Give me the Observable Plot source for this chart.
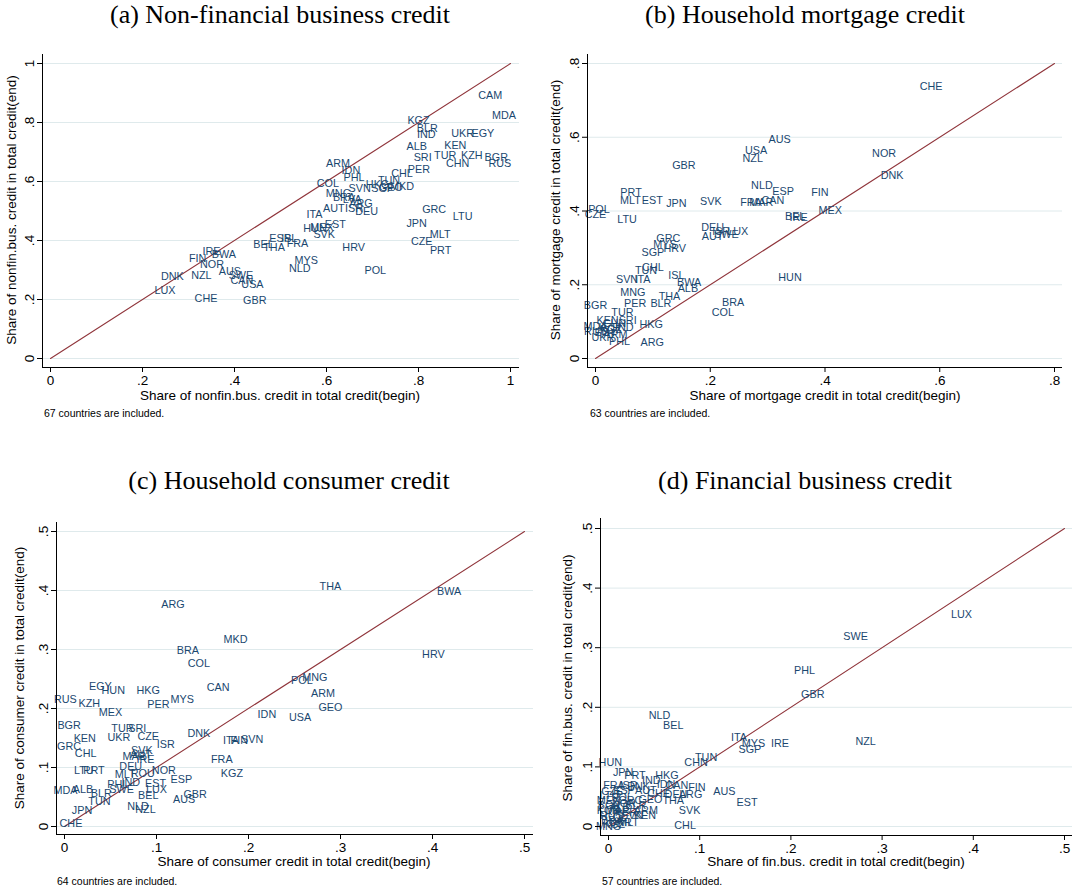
<!DOCTYPE html>
<html><head><meta charset="utf-8">
<script src="https://cdn.jsdelivr.net/npm/d3@7"></script>
<script src="https://cdn.jsdelivr.net/npm/@observablehq/plot@0.6"></script>
<style>
body{margin:0;background:#fff;}
#wrap{position:relative;width:1075px;height:892px;overflow:hidden;font-family:"Liberation Sans",Arial,sans-serif;color:#000;}
#wrap svg{position:absolute;}
.abs{position:absolute;white-space:nowrap;line-height:1;}
.title{font-family:"Liberation Serif","Times New Roman",serif;font-size:26px;transform:translate(-50%,-50%);}
.xt{font-size:13.5px;transform:translate(-50%,-50%);}
.yt{font-size:13.5px;transform:translate(-50%,-50%) rotate(-90deg);}
.note{font-size:10.5px;transform:translateY(-50%);}
</style></head><body><div id="wrap"></div>
<script>
// tick values and labels
const ticksUnit = [0, 0.2, 0.4, 0.6, 0.8, 1];
const ticksUnitLabels = ["0", ".2", ".4", ".6", ".8", "1"];
const ticksMort = [0, 0.2, 0.4, 0.6, 0.8];
const ticksMortLabels = ["0", ".2", ".4", ".6", ".8"];
const ticksHalf = [0, 0.1, 0.2, 0.3, 0.4, 0.5];
const ticksHalfLabels = ["0", ".1", ".2", ".3", ".4", ".5"];

// [country, share at begin, share at end]
const nonfinRows = [
["CAM",.956,.892],["MDA",.986,.824],["KGZ",.800,.807],["BLR",.819,.781],["IND",.817,.759],
["UKR",.896,.764],["EGY",.940,.764],["ALB",.796,.719],["KEN",.880,.722],["SRI",.809,.682],
["TUR",.858,.688],["KZH",.916,.688],["BGR",.969,.682],["CHN",.885,.662],["RUS",.977,.662],
["PER",.801,.641],["CHL",.764,.628],["ARM",.625,.662],["IDN",.653,.637],["PHL",.660,.612],
["COL",.603,.592],["TUN",.736,.603],["SVN",.672,.577],["HKG",.711,.589],["SGP",.722,.575],
["GEO",.740,.579],["MKD",.764,.583],["MNG",.626,.560],["BRA",.638,.545],["LVA",.656,.539],
["ARG",.675,.524],["AUT",.616,.510],["ISR",.660,.510],["DEU",.687,.498],["ITA",.574,.488],
["EST",.619,.454],["HUN",.575,.440],["MEX",.590,.445],["SVK",.595,.419],["GRC",.834,.505],
["LTU",.896,.481],["JPN",.796,.456],["MLT",.847,.420],["CZE",.807,.397],["PRT",.848,.366],
["HRV",.659,.375],["POL",.706,.298],["MYS",.556,.332],["NLD",.542,.304],["BEL",.463,.385],
["THA",.486,.377],["ESP",.499,.407],["ISL",.519,.407],["FRA",.537,.391],["IRE",.350,.364],
["BWA",.377,.353],["FIN",.320,.338],["NOR",.351,.319],["AUS",.390,.295],["SWE",.414,.281],
["CAN",.416,.264],["USA",.439,.251],["DNK",.265,.278],["NZL",.328,.281],["LUX",.249,.231],
["CHE",.338,.202],["GBR",.444,.197]
];

const mortgageRows = [
["CHE",.585,.738],["AUS",.321,.593],["USA",.280,.564],["NZL",.274,.541],["GBR",.154,.523],
["NOR",.503,.556],["DNK",.517,.496],["NLD",.290,.469],["ESP",.327,.453],["FIN",.391,.449],
["CAN",.309,.428],["FRA",.271,.422],["MAR",.289,.422],["PRT",.062,.451],["MLT",.061,.428],
["EST",.099,.428],["JPN",.141,.421],["SVK",.201,.426],["POL",.006,.403],["CZE",.000,.390],
["LTU",.055,.377],["BEL",.348,.386],["IRE",.354,.383],["MEX",.409,.401],["DEU",.204,.356],
["ISR",.219,.345],["LUX",.248,.344],["SWE",.228,.335],["AUT",.204,.331],["GRC",.127,.326],
["MYS",.121,.308],["HRV",.138,.299],["SGP",.100,.288],["TUN",.088,.239],["CHL",.100,.246],
["SVN",.055,.214],["ITA",.082,.214],["ISL",.141,.225],["BWA",.163,.207],["ALB",.161,.189],
["HUN",.339,.220],["MNG",.065,.178],["THA",.129,.169],["PER",.069,.148],["BLR",.114,.148],
["BGR",.000,.144],["BRA",.240,.151],["COL",.222,.124],["TUR",.047,.124],["KEN",.021,.103],
["SRI",.056,.103],["MDA",.000,.087],["IND",.050,.083],["RUS",.000,.073],["KZH",.024,.085],
["EGY",.018,.071],["UKR",.013,.058],["HKG",.097,.092],["PHL",.042,.047],["ARG",.099,.044],
["CHN",.033,.094],["KGZ",.027,.078],["ARM",.035,.066]
];

const consumerRows = [
["EGY",.039,.237],["HUN",.053,.231],["HKG",.091,.231],["CAN",.167,.235],["RUS",.001,.215],
["KZH",.027,.208],["PER",.102,.207],["MYS",.128,.216],["MEX",.050,.193],["IDN",.220,.190],
["BGR",.005,.171],["TUR",.063,.166],["SRI",.079,.166],["KEN",.022,.149],["UKR",.059,.151],
["CZE",.091,.153],["ISR",.110,.139],["DNK",.146,.157],["GRC",.005,.136],["CHL",.023,.124],
["SVK",.084,.128],["MAR",.076,.119],["IRE",.088,.113],["ITA",.181,.145],["FIN",.190,.145],
["SVN",.204,.147],["FRA",.171,.113],["KGZ",.182,.089],["LTU",.021,.095],["PRT",.032,.095],
["DEU",.072,.101],["MLT",.066,.088],["ROU",.085,.089],["NOR",.108,.095],["IND",.072,.075],
["PHL",.058,.071],["EST",.099,.072],["ESP",.127,.080],["MDA",.001,.061],["ALB",.020,.062],
["BLR",.040,.056],["SWE",.062,.062],["LUX",.100,.063],["BEL",.091,.053],["GBR",.142,.054],
["AUS",.130,.046],["TUN",.038,.042],["JPN",.019,.027],["NLD",.080,.034],["NZL",.088,.029],
["CHE",.007,.005],["THA",.289,.407],["BWA",.418,.398],["MKD",.186,.317],["HRV",.401,.292],
["COL",.146,.276],["POL",.258,.247],["MNG",.272,.252],["ARM",.281,.226],["GEO",.289,.202],
["USA",.256,.184],["ARG",.118,.376],["BRA",.134,.298],["AUT",.083,.122]
];

const finbusRows = [
["LUX",.387,.355],["SWE",.271,.318],["PHL",.215,.262],["GBR",.224,.222],["NZL",.282,.143],
["NLD",.056,.187],["BEL",.071,.170],["ITA",.143,.149],["MYS",.159,.139],["IRE",.188,.139],
["SGP",.155,.129],["TUN",.107,.115],["CHN",.096,.108],["HUN",.002,.108],["JPN",.016,.090],
["PRT",.029,.086],["HKG",.064,.086],["IND",.047,.077],["FRA",.006,.069],["ISR",.022,.069],
["DNK",.033,.067],["IDN",.063,.071],["CAN",.075,.069],["FIN",.097,.066],["ARG",.090,.053],
["ESP",.017,.061],["SVK",.089,.026],["CHE",.055,.055],["EST",.152,.041],["AUS",.127,.059],
["THA",.071,.044],["CHL",.084,.002],["ARM",.041,.027],["KEN",.040,.018],["CZE",.004,.058],
["MEX",.000,.044],["BGR",.001,.035],["GRC",.024,.044],["GEO",.046,.045],["KOR",.000,.027],
["MNG",.000,.000],["RUS",.003,.018],["BRA",.004,.010],["UKR",.013,.007],["LTU",.001,.052],
["ALB",.012,.032],["NOR",.017,.038],["PER",.019,.024],["MLT",.022,.007],["SVN",.026,.018],
["AUT",.041,.061],["DEU",.074,.053],["COL",.008,.015],["KGZ",.006,.003],["MAR",.010,.026],
["POL",.015,.048],["BLR",.030,.035]
];

const panels = [
 {rows: nonfinRows, ticks: ticksUnit, tickLabels: ticksUnitLabels,
  title: "(a) Non-financial business credit",
  xLabel: "Share of nonfin.bus. credit in total credit(begin)",
  yLabel: "Share of nonfin.bus. credit in total credit(end)",
  note: "67 countries are included.",
  box: {left: 0, top: 40, width: 537, height: 380}, plot: {l: 42, r: 519, t: 54, b: 367},
  xCal: [0, 50, 1, 510], yCal: [0, 358, 1, 63],
  titlePos: [280, 15], xLabelPos: [280, 396], yLabelPos: [12, 210], notePos: [44, 413]},
 {rows: mortgageRows, ticks: ticksMort, tickLabels: ticksMortLabels,
  title: "(b) Household mortgage credit",
  xLabel: "Share of mortgage credit in total credit(begin)",
  yLabel: "Share of mortgage credit in total credit(end)",
  note: "63 countries are included.",
  box: {left: 545, top: 40, width: 530, height: 380}, plot: {l: 587, r: 1062, t: 54, b: 367},
  xCal: [0, 595, 0.8, 1054], yCal: [0, 358, 0.8, 63],
  titlePos: [805, 15], xLabelPos: [825, 396], yLabelPos: [556, 210], notePos: [590, 413]},
 {rows: consumerRows, ticks: ticksHalf, tickLabels: ticksHalfLabels,
  title: "(c) Household consumer credit",
  xLabel: "Share of consumer credit in total credit(begin)",
  yLabel: "Share of consumer credit in total credit(end)",
  note: "64 countries are included.",
  box: {left: 0, top: 505, width: 545, height: 370}, plot: {l: 56, r: 533, t: 522, b: 834},
  xCal: [0, 64, 0.5, 524], yCal: [0, 826, 0.5, 531],
  titlePos: [289, 481], xLabelPos: [294, 862], yLabelPos: [20, 678], notePos: [57, 881]},
 {rows: finbusRows, ticks: ticksHalf, tickLabels: ticksHalfLabels,
  title: "(d) Financial business credit",
  xLabel: "Share of fin.bus. credit in total credit(begin)",
  yLabel: "Share of fin.bus. credit in total credit(end)",
  note: "57 countries are included.",
  box: {left: 545, top: 505, width: 530, height: 370}, plot: {l: 600, r: 1072, t: 518, b: 835},
  xCal: [0, 608, 0.5, 1064], yCal: [0, 826, 0.5, 528],
  titlePos: [805, 481], xLabelPos: [836, 862], yLabelPos: [568, 678], notePos: [602, 881]}
];

const wrap = document.getElementById("wrap");
function dom(a, b, cal) {
  const [v0, p0, v1, p1] = cal;
  const k = (v1 - v0) / (p1 - p0);
  return [v0 + (a - p0) * k, v0 + (b - p0) * k];
}
function addText(cls, txt, pos) {
  const d = document.createElement("div");
  d.className = "abs " + cls;
  d.textContent = txt;
  d.style.left = pos[0] + "px";
  d.style.top = pos[1] + "px";
  wrap.appendChild(d);
}

for (const p of panels) {
  const {box, plot} = p;
  const xDomain = dom(plot.l, plot.r, p.xCal);
  const yDomain = dom(plot.b, plot.t, p.yCal);
  const fmt = d => p.tickLabels[p.ticks.indexOf(d)];
  const diag = [p.ticks[0], p.ticks[p.ticks.length - 1]].map(v => ({v}));
  const svg = Plot.plot({
    width: box.width, height: box.height,
    marginLeft: plot.l - box.left, marginRight: box.left + box.width - plot.r,
    marginTop: plot.t - box.top, marginBottom: box.top + box.height - plot.b,
    style: {fontFamily: "Liberation Sans, Arial, sans-serif", fontSize: "13.5px", background: "transparent", overflow: "visible", color: "#000"},
    x: {domain: xDomain, label: null},
    y: {domain: yDomain, label: null},
    marks: [
      Plot.ruleY(p.ticks, {stroke: "#dfeaec", strokeWidth: 1}),
      Plot.line(diag, {x: "v", y: "v", stroke: "#90353b", strokeWidth: 1.1}),
      Plot.text(p.rows, {x: d => d[1], y: d => d[2], text: d => d[0], fill: "#1a476f", fontSize: 10.8, textAnchor: "middle"}),
      Plot.ruleX([xDomain[0]], {stroke: "#000", strokeWidth: 1}),
      Plot.ruleY([yDomain[0]], {stroke: "#000", strokeWidth: 1}),
      Plot.axisX({ticks: p.ticks, tickFormat: fmt, tickSize: 5, tickPadding: 3, label: null, fontSize: 13.5}),
      Plot.axisY({ticks: p.ticks, tickFormat: fmt, tickSize: 5, tickRotate: -90, label: null, fontSize: 13.5})
    ]
  });
  svg.style.left = box.left + "px";
  svg.style.top = box.top + "px";
  wrap.appendChild(svg);
  addText("title", p.title, p.titlePos);
  addText("xt", p.xLabel, p.xLabelPos);
  addText("yt", p.yLabel, p.yLabelPos);
  addText("note", p.note, p.notePos);
}
</script>
</body></html>
